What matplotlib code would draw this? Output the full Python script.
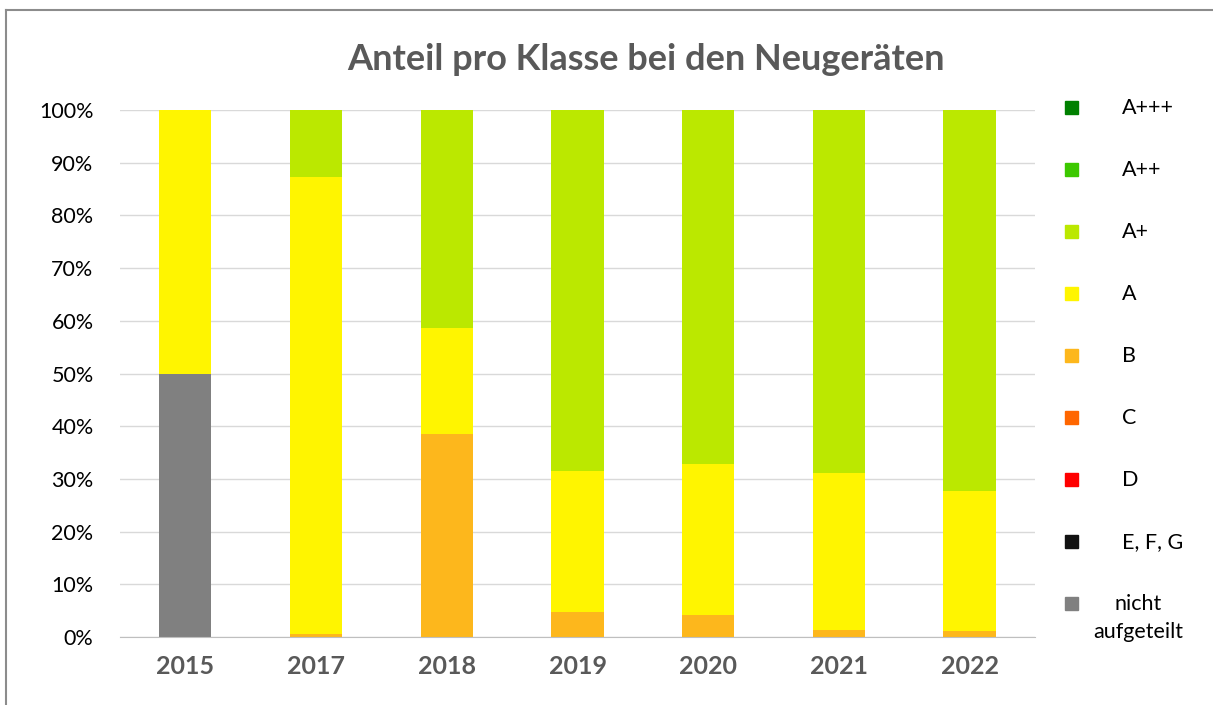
import matplotlib
matplotlib.use("Agg")
import matplotlib.pyplot as plt
import matplotlib.patches as mpatches
from matplotlib.lines import Line2D
import numpy as np

plt.rcParams['font.family'] = ['Lato', 'DejaVu Sans']

jahre = ["2015", "2017", "2018", "2019", "2020", "2021", "2022"]

# Anteile in %, von unten nach oben gestapelt
nicht_aufgeteilt = [50.0, 0, 0, 0, 0, 0, 0]
efg = [0, 0, 0, 0, 0, 0, 0]
d = [0, 0, 0, 0, 0, 0, 0]
c = [0, 0, 0, 0, 0, 0, 0]
b = [0, 0.5, 38.5, 4.7, 4.2, 1.3, 1.1]
a = [50.0, 86.7, 20.2, 26.8, 28.7, 29.8, 26.6]
a_plus = [0, 12.8, 41.3, 68.5, 67.1, 68.9, 72.3]
a_2plus = [0, 0, 0, 0, 0, 0, 0]
a_3plus = [0, 0, 0, 0, 0, 0, 0]

klassen = ["nicht\naufgeteilt", "E, F, G", "D", "C", "B", "A", "A+", "A++", "A+++"]
werte = [nicht_aufgeteilt, efg, d, c, b, a, a_plus, a_2plus, a_3plus]
farben = ["#808080", "#111111", "#FF0000", "#FF6600", "#FDB71C",
          "#FFF500", "#BBE800", "#3CC800", "#008000"]

fig = plt.figure(figsize=(12.13, 7.05), dpi=100)
ax = fig.add_axes([120 / 1213, 1 - 637 / 705, 915 / 1213, 527 / 705])

x = np.arange(len(jahre))
unten = np.zeros(len(jahre))
for name, vals, col in zip(klassen, werte, farben):
    vals = np.array(vals, dtype=float)
    ax.bar(x, vals, bottom=unten, width=0.4, color=col, label=name)
    unten += vals

ax.set_xlim(-0.5, len(jahre) - 0.5)
ax.set_ylim(0, 100)
ax.set_yticks(np.arange(0, 101, 10))
ax.set_yticklabels([f"{v}%" for v in range(0, 101, 10)], fontsize=15.5, color="#000000")
ax.set_xticks(x)
ax.set_xticklabels(jahre, fontsize=18, fontweight="bold", color="#595959")
ax.tick_params(axis="both", length=0)
ax.tick_params(axis="y", pad=19)
ax.tick_params(axis="x", pad=13)
ax.grid(axis="y", color="#D9D9D9", linewidth=1)
ax.set_axisbelow(True)
for s in ["top", "right", "left"]:
    ax.spines[s].set_visible(False)
ax.spines["bottom"].set_color("#BFBFBF")

fig.text(646 / 1213, 1 - 59 / 705, "Anteil pro Klasse bei den Neugeräten",
         ha="center", va="center", fontsize=26, fontweight="bold", color="#595959")

# Legende rechts, von oben nach unten
for i, (name, col) in enumerate(zip(klassen[::-1], farben[::-1])):
    yp = 108 + i * 62
    fig.add_artist(mpatches.Rectangle((1065 / 1213, 1 - (yp + 6) / 705), 13 / 1213, 13 / 705,
                                      transform=fig.transFigure, color=col))
    if "\n" in name:
        fig.text(1138 / 1213, 1 - (yp - 10) / 705, name, ha="center", va="top",
                 multialignment="center", fontsize=15.5, linespacing=1.5)
    else:
        fig.text(1122 / 1213, 1 - yp / 705, name, ha="left", va="center", fontsize=15.5)

# Rahmen
fig.add_artist(Line2D([6 / 1213, 1], [1 - 10 / 705, 1 - 10 / 705], transform=fig.transFigure,
                      color="#8C8C8C", linewidth=1.5))
fig.add_artist(Line2D([6 / 1213, 6 / 1213], [0, 1 - 10 / 705], transform=fig.transFigure,
                      color="#8C8C8C", linewidth=1.5))

fig.savefig("out.png", dpi=100)
